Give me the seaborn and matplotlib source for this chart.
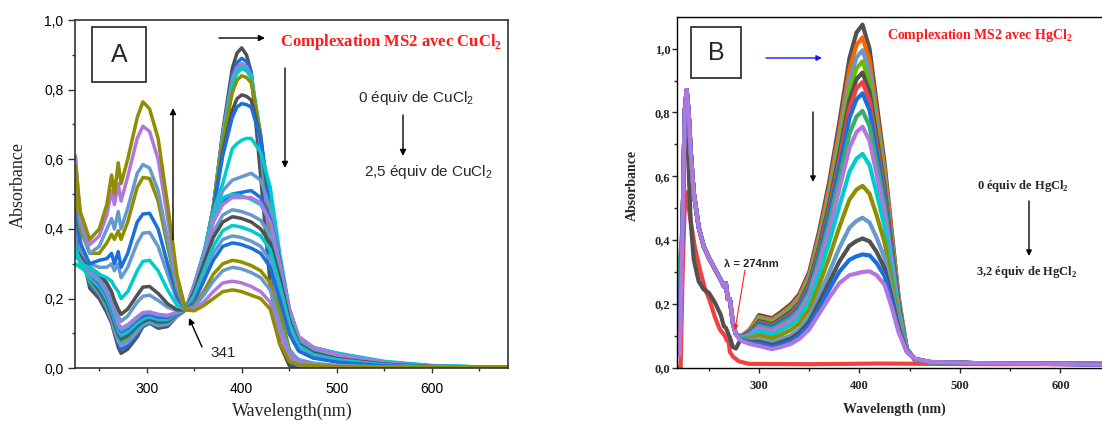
import pandas as pd
import seaborn as sns
import matplotlib.pyplot as plt
from matplotlib.patches import Rectangle, FancyArrowPatch

sns.set_style("ticks")
plt.rcParams['font.family'] = ['Liberation Sans', 'DejaVu Sans']

# ---------------- panel A : CuCl2 titration ----------------
wl_a = [225, 230, 240, 250, 258, 263, 266, 270, 273, 280, 290, 296, 303, 312, 322, 332, 341,
        350, 360, 370, 380, 390, 395, 400, 405, 410, 420, 430, 440, 450, 460, 475, 500, 550, 600, 680]

cu_01 = [0.50, 0.36, 0.23, 0.20, 0.16, 0.13, 0.10, 0.06, 0.043, 0.055, 0.09, 0.12, 0.13, 0.115, 0.12, 0.15, 0.168,
         0.22, 0.32, 0.46, 0.68, 0.86, 0.905, 0.92, 0.90, 0.85, 0.55, 0.24, 0.07, 0.008, 0.0, 0.0, 0.0, 0.0, 0.0, 0.0]
cu_02 = [0.48, 0.35, 0.24, 0.21, 0.17, 0.135, 0.105, 0.07, 0.055, 0.065, 0.10, 0.12, 0.13, 0.12, 0.125, 0.15, 0.168,
         0.22, 0.32, 0.46, 0.67, 0.84, 0.877, 0.89, 0.88, 0.85, 0.62, 0.32, 0.11, 0.02, 0.005, 0.002, 0.001, 0.0, 0.0, 0.0]
cu_03 = [0.55, 0.37, 0.25, 0.215, 0.175, 0.14, 0.11, 0.08, 0.065, 0.075, 0.105, 0.125, 0.133, 0.123, 0.127, 0.15, 0.168,
         0.22, 0.32, 0.46, 0.67, 0.83, 0.864, 0.875, 0.866, 0.84, 0.64, 0.35, 0.13, 0.03, 0.008, 0.004, 0.002, 0.001, 0.0, 0.0]
cu_04 = [0.45, 0.35, 0.25, 0.215, 0.18, 0.145, 0.115, 0.085, 0.07, 0.08, 0.11, 0.128, 0.135, 0.125, 0.13, 0.152, 0.168,
         0.22, 0.32, 0.46, 0.66, 0.82, 0.857, 0.87, 0.862, 0.84, 0.66, 0.37, 0.15, 0.04, 0.012, 0.006, 0.003, 0.001, 0.0, 0.0]
cu_05 = [0.32, 0.31, 0.25, 0.22, 0.18, 0.15, 0.12, 0.09, 0.075, 0.085, 0.115, 0.13, 0.137, 0.128, 0.132, 0.153, 0.168,
         0.22, 0.32, 0.46, 0.66, 0.81, 0.847, 0.86, 0.854, 0.835, 0.67, 0.39, 0.16, 0.05, 0.018, 0.009, 0.005, 0.002, 0.001, 0.0]
cu_06 = [0.40, 0.33, 0.255, 0.22, 0.185, 0.15, 0.125, 0.095, 0.08, 0.09, 0.12, 0.133, 0.14, 0.13, 0.133, 0.154, 0.168,
         0.22, 0.32, 0.46, 0.65, 0.79, 0.827, 0.84, 0.835, 0.82, 0.67, 0.40, 0.17, 0.055, 0.02, 0.01, 0.006, 0.003, 0.001, 0.0]
cu_07 = [0.45, 0.34, 0.26, 0.225, 0.19, 0.155, 0.13, 0.10, 0.085, 0.095, 0.122, 0.135, 0.142, 0.133, 0.135, 0.155, 0.168,
         0.22, 0.32, 0.45, 0.62, 0.74, 0.774, 0.785, 0.781, 0.77, 0.66, 0.45, 0.23, 0.10, 0.05, 0.03, 0.02, 0.01, 0.004, 0.002]
cu_08 = [0.40, 0.33, 0.26, 0.23, 0.195, 0.16, 0.135, 0.105, 0.09, 0.10, 0.125, 0.138, 0.145, 0.137, 0.138, 0.156, 0.168,
         0.22, 0.32, 0.45, 0.61, 0.72, 0.75, 0.76, 0.757, 0.75, 0.66, 0.47, 0.26, 0.12, 0.065, 0.04, 0.03, 0.013, 0.005, 0.002]
cu_09 = [0.35, 0.30, 0.26, 0.235, 0.20, 0.165, 0.14, 0.11, 0.095, 0.105, 0.13, 0.142, 0.148, 0.14, 0.14, 0.157, 0.168,
         0.23, 0.33, 0.45, 0.53, 0.63, 0.645, 0.655, 0.66, 0.66, 0.62, 0.52, 0.33, 0.17, 0.09, 0.06, 0.042, 0.018, 0.007, 0.002]
cu_10 = [0.41, 0.32, 0.265, 0.24, 0.205, 0.17, 0.145, 0.115, 0.10, 0.11, 0.135, 0.145, 0.15, 0.143, 0.143, 0.158, 0.168,
         0.23, 0.33, 0.44, 0.51, 0.54, 0.545, 0.55, 0.555, 0.56, 0.54, 0.46, 0.32, 0.17, 0.09, 0.06, 0.042, 0.018, 0.007, 0.002]
cu_11 = [0.40, 0.32, 0.27, 0.245, 0.21, 0.175, 0.15, 0.12, 0.105, 0.115, 0.14, 0.15, 0.155, 0.147, 0.146, 0.159, 0.168,
         0.24, 0.33, 0.42, 0.48, 0.50, 0.503, 0.505, 0.508, 0.51, 0.49, 0.43, 0.31, 0.17, 0.09, 0.06, 0.042, 0.018, 0.007, 0.002]
cu_12 = [0.30, 0.29, 0.27, 0.25, 0.215, 0.18, 0.155, 0.125, 0.11, 0.12, 0.145, 0.158, 0.16, 0.153, 0.15, 0.16, 0.168,
         0.24, 0.33, 0.43, 0.49, 0.50, 0.498, 0.495, 0.49, 0.485, 0.47, 0.42, 0.30, 0.17, 0.09, 0.06, 0.044, 0.02, 0.008, 0.002]
cu_13 = [0.38, 0.31, 0.275, 0.255, 0.22, 0.19, 0.165, 0.13, 0.115, 0.125, 0.148, 0.16, 0.162, 0.155, 0.152, 0.161, 0.168,
         0.24, 0.32, 0.42, 0.47, 0.49, 0.49, 0.49, 0.49, 0.49, 0.475, 0.42, 0.30, 0.17, 0.09, 0.06, 0.04, 0.017, 0.006, 0.002]
cu_14 = [0.40, 0.31, 0.28, 0.26, 0.23, 0.20, 0.18, 0.15, 0.135, 0.15, 0.19, 0.207, 0.21, 0.195, 0.175, 0.165, 0.168,
         0.23, 0.31, 0.39, 0.44, 0.455, 0.453, 0.45, 0.445, 0.44, 0.425, 0.38, 0.28, 0.15, 0.08, 0.05, 0.03, 0.013, 0.005, 0.002]
cu_15 = [0.45, 0.33, 0.29, 0.27, 0.245, 0.22, 0.195, 0.17, 0.155, 0.17, 0.21, 0.233, 0.235, 0.215, 0.185, 0.168, 0.168,
         0.22, 0.30, 0.375, 0.42, 0.435, 0.433, 0.43, 0.425, 0.42, 0.40, 0.36, 0.26, 0.14, 0.07, 0.045, 0.028, 0.012, 0.005, 0.002]
cu_16 = [0.35, 0.30, 0.29, 0.27, 0.26, 0.25, 0.235, 0.22, 0.20, 0.22, 0.28, 0.307, 0.31, 0.28, 0.225, 0.18, 0.168,
         0.21, 0.28, 0.35, 0.395, 0.41, 0.408, 0.405, 0.40, 0.395, 0.38, 0.34, 0.24, 0.13, 0.065, 0.04, 0.025, 0.01, 0.004, 0.002]
cu_17 = [0.45, 0.34, 0.30, 0.29, 0.29, 0.30, 0.28, 0.30, 0.26, 0.29, 0.36, 0.388, 0.39, 0.35, 0.27, 0.195, 0.168,
         0.20, 0.26, 0.33, 0.37, 0.38, 0.378, 0.375, 0.37, 0.365, 0.35, 0.31, 0.21, 0.11, 0.055, 0.035, 0.02, 0.008, 0.003, 0.002]
cu_18 = [0.45, 0.36, 0.30, 0.31, 0.315, 0.33, 0.30, 0.335, 0.29, 0.33, 0.42, 0.443, 0.445, 0.40, 0.30, 0.205, 0.168,
         0.19, 0.25, 0.31, 0.35, 0.36, 0.358, 0.355, 0.35, 0.345, 0.33, 0.29, 0.20, 0.10, 0.05, 0.03, 0.018, 0.007, 0.003, 0.002]
cu_19 = [0.50, 0.40, 0.33, 0.33, 0.36, 0.385, 0.37, 0.395, 0.37, 0.42, 0.52, 0.548, 0.545, 0.48, 0.35, 0.225, 0.168,
         0.18, 0.22, 0.27, 0.30, 0.31, 0.308, 0.305, 0.30, 0.295, 0.28, 0.245, 0.14, 0.05, 0.02, 0.012, 0.007, 0.004, 0.003, 0.002]
cu_20 = [0.61, 0.42, 0.33, 0.35, 0.40, 0.43, 0.40, 0.45, 0.40, 0.46, 0.56, 0.585, 0.575, 0.51, 0.37, 0.235, 0.168,
         0.175, 0.21, 0.25, 0.28, 0.29, 0.288, 0.285, 0.28, 0.275, 0.26, 0.225, 0.13, 0.05, 0.025, 0.015, 0.008, 0.004, 0.003, 0.002]
cu_21 = [0.60, 0.44, 0.355, 0.38, 0.44, 0.51, 0.47, 0.53, 0.48, 0.55, 0.66, 0.695, 0.68, 0.60, 0.43, 0.255, 0.168,
         0.17, 0.19, 0.22, 0.245, 0.25, 0.248, 0.245, 0.24, 0.235, 0.22, 0.19, 0.10, 0.035, 0.015, 0.01, 0.006, 0.003, 0.002, 0.002]
cu_22 = [0.58, 0.45, 0.37, 0.40, 0.47, 0.555, 0.50, 0.59, 0.53, 0.60, 0.72, 0.765, 0.745, 0.66, 0.47, 0.265, 0.168,
         0.165, 0.18, 0.20, 0.22, 0.225, 0.223, 0.22, 0.215, 0.21, 0.20, 0.17, 0.07, 0.02, 0.01, 0.008, 0.005, 0.003, 0.002, 0.002]

cu_spectra = [cu_01, cu_02, cu_03, cu_04, cu_05, cu_06, cu_07, cu_08, cu_09, cu_10, cu_11,
              cu_12, cu_13, cu_14, cu_15, cu_16, cu_17, cu_18, cu_19, cu_20, cu_21, cu_22]

GRAY, BLUE, PURPLE, STEEL, CYAN, OLIVE = "#515151", "#1A6FDF", "#B177DE", "#6699CC", "#00CBCC", "#8E8E00"
RED, ORANGE, LIME, GREEN = "#F14040", "#FB6501", "#6FB802", "#37AD6B"

cu_colors = [GRAY, BLUE, PURPLE, STEEL, CYAN, OLIVE, GRAY, BLUE, CYAN, STEEL, BLUE,
             CYAN, PURPLE, STEEL, GRAY, CYAN, STEEL, BLUE, OLIVE, STEEL, PURPLE, OLIVE]

# ---------------- panel B : HgCl2 titration ----------------
wl_b_start = 221
wl_b_uv = [224, 226, 228, 230, 232, 235, 240, 245, 250, 256, 262, 265, 267, 269, 271, 274, 277]
wl_b_vis = [282, 290, 300, 313, 322, 332, 340, 350, 360, 370, 380, 390, 397, 403, 410, 417,
            425, 432, 439, 447, 455, 470, 520, 644]

hg_uv_first = [0.45, 0.76, 0.80, 0.62, 0.46, 0.34, 0.27, 0.245, 0.235, 0.205, 0.165, 0.13, 0.125, 0.11, 0.095, 0.065, 0.06]
hg_uv_rest = [0.45, 0.80, 0.87, 0.80, 0.68, 0.55, 0.44, 0.38, 0.345, 0.31, 0.275, 0.255, 0.265, 0.215, 0.215, 0.14, 0.105]
hg_start = [0.15, 0.21, 0.15, 0.30, 0.20, 0.18, 0.17, 0.31, 0.04, 0.21, 0.16, 0.12, 0.10, 0.14, 0.04]

hg_01 = [0.09, 0.115, 0.165, 0.155, 0.175, 0.20, 0.23, 0.30, 0.43, 0.585, 0.77, 0.97, 1.05, 1.075, 1.0, 0.83, 0.64, 0.43, 0.22, 0.06, 0.025, 0.017, 0.014, 0.012]
hg_02 = [0.099, 0.118, 0.160, 0.150, 0.169, 0.194, 0.223, 0.291, 0.416, 0.566, 0.744, 0.935, 1.011, 1.035, 0.964, 0.802, 0.620, 0.418, 0.214, 0.059, 0.025, 0.017, 0.014, 0.012]
hg_03 = [0.098, 0.115, 0.155, 0.145, 0.164, 0.187, 0.216, 0.281, 0.403, 0.547, 0.718, 0.900, 0.972, 0.995, 0.928, 0.774, 0.601, 0.405, 0.209, 0.059, 0.025, 0.017, 0.014, 0.012]
hg_04 = [0.098, 0.113, 0.151, 0.141, 0.159, 0.182, 0.209, 0.273, 0.392, 0.531, 0.695, 0.869, 0.938, 0.960, 0.897, 0.750, 0.584, 0.394, 0.204, 0.058, 0.026, 0.017, 0.014, 0.012]
hg_05 = [0.097, 0.111, 0.146, 0.136, 0.154, 0.176, 0.203, 0.265, 0.380, 0.514, 0.672, 0.838, 0.904, 0.925, 0.865, 0.725, 0.566, 0.383, 0.199, 0.058, 0.026, 0.017, 0.014, 0.012]
hg_06 = [0.097, 0.110, 0.142, 0.132, 0.149, 0.171, 0.198, 0.258, 0.370, 0.500, 0.653, 0.812, 0.875, 0.895, 0.838, 0.705, 0.552, 0.374, 0.194, 0.058, 0.026, 0.017, 0.014, 0.012]
hg_07 = [0.096, 0.108, 0.138, 0.128, 0.145, 0.165, 0.191, 0.250, 0.358, 0.484, 0.630, 0.782, 0.841, 0.860, 0.807, 0.680, 0.535, 0.364, 0.190, 0.057, 0.026, 0.017, 0.014, 0.011]
hg_08 = [0.095, 0.104, 0.131, 0.121, 0.137, 0.157, 0.181, 0.237, 0.340, 0.458, 0.594, 0.733, 0.787, 0.805, 0.757, 0.642, 0.508, 0.346, 0.182, 0.057, 0.026, 0.017, 0.014, 0.011]
hg_09 = [0.094, 0.101, 0.125, 0.115, 0.130, 0.148, 0.172, 0.226, 0.323, 0.434, 0.561, 0.689, 0.738, 0.755, 0.712, 0.607, 0.483, 0.331, 0.175, 0.056, 0.027, 0.017, 0.014, 0.011]
hg_10 = [0.092, 0.096, 0.114, 0.104, 0.117, 0.135, 0.157, 0.206, 0.294, 0.394, 0.506, 0.614, 0.655, 0.670, 0.635, 0.548, 0.441, 0.304, 0.162, 0.055, 0.027, 0.017, 0.014, 0.011]
hg_11 = [0.090, 0.091, 0.102, 0.092, 0.103, 0.119, 0.139, 0.183, 0.260, 0.347, 0.441, 0.527, 0.558, 0.570, 0.545, 0.478, 0.392, 0.274, 0.148, 0.053, 0.027, 0.017, 0.014, 0.011]
hg_12 = [0.088, 0.085, 0.089, 0.079, 0.089, 0.102, 0.121, 0.159, 0.227, 0.300, 0.376, 0.439, 0.460, 0.470, 0.455, 0.408, 0.343, 0.243, 0.134, 0.052, 0.028, 0.018, 0.014, 0.011]
hg_13 = [0.087, 0.081, 0.081, 0.071, 0.080, 0.092, 0.109, 0.144, 0.205, 0.269, 0.333, 0.382, 0.397, 0.405, 0.396, 0.363, 0.311, 0.222, 0.125, 0.051, 0.028, 0.018, 0.014, 0.010]
hg_14 = [0.086, 0.078, 0.075, 0.065, 0.073, 0.084, 0.100, 0.133, 0.188, 0.246, 0.301, 0.338, 0.349, 0.355, 0.352, 0.328, 0.287, 0.207, 0.118, 0.050, 0.028, 0.018, 0.014, 0.010]
hg_15 = [0.085, 0.075, 0.068, 0.058, 0.065, 0.075, 0.090, 0.120, 0.170, 0.220, 0.265, 0.290, 0.295, 0.300, 0.302, 0.290, 0.260, 0.190, 0.110, 0.050, 0.028, 0.018, 0.014, 0.010]

hg_vis = [hg_01, hg_02, hg_03, hg_04, hg_05, hg_06, hg_07, hg_08, hg_09, hg_10, hg_11, hg_12, hg_13, hg_14, hg_15]
hg_colors = [GRAY, ORANGE, STEEL, LIME, GRAY, RED, BLUE, GREEN, PURPLE, CYAN, OLIVE, STEEL, GRAY, BLUE, PURPLE]

# HgCl2 reference trace (red, flat in the visible)
wl_red = [219.5, 222, 224, 226, 228, 231, 236, 241, 246, 251, 256, 261, 266, 268, 269.5, 271, 274,
          280, 290, 350, 420, 470, 550, 644]
red_abs = [0.0, 0.0, 0.30, 0.50, 0.55, 0.48, 0.38, 0.31, 0.25, 0.21, 0.16, 0.12, 0.10, 0.085, 0.09, 0.05, 0.035,
           0.02, 0.012, 0.011, 0.013, 0.012, 0.011, 0.011]

# axis ticks
a_yticks = [0.0, 0.2, 0.4, 0.6, 0.8, 1.0]
a_ylabels = ["0,0", "0,2", "0,4", "0,6", "0,8", "1,0"]
b_yticks = [0.0, 0.2, 0.4, 0.6, 0.8, 1.0]
b_ylabels = ["0,0", "0,2", "0,4", "0,6", "0,8", "1,0"]
x_ticks = [300, 400, 500, 600]


def long_table(wl_lists, spectra):
    rows = []
    for i, (wl, s) in enumerate(zip(wl_lists, spectra)):
        for w, v in zip(wl, s):
            rows.append((f"s{i:02d}", w, v))
    return pd.DataFrame(rows, columns=["scan", "wavelength", "absorbance"])


W, H = 1102, 421
fig = plt.figure(figsize=(W / 100, H / 100), dpi=100)


def fp(x, y):
    return (x / W, 1 - y / H)


def arrow(p0, p1, color="black", lw=1.0, ms=9):
    fig.add_artist(FancyArrowPatch(fp(*p0), fp(*p1), transform=fig.transFigure,
                                   arrowstyle="-|>", mutation_scale=ms, lw=lw, color=color,
                                   shrinkA=0, shrinkB=0))


# ---------- panel A ----------
ax_a = fig.add_axes([75 / W, 1 - 368.3 / H, (507.7 - 75) / W, (368.3 - 20) / H])
df_a = long_table([wl_a] * len(cu_spectra), cu_spectra)
sns.lineplot(data=df_a, x="wavelength", y="absorbance", hue="scan", palette=cu_colors,
             estimator=None, sort=False, lw=2.5, legend=False, ax=ax_a)
ax_a.set_xlim(224.5, 680)
ax_a.set_ylim(0, 1.0)
ax_a.set_xticks(x_ticks)
ax_a.set_xticklabels([str(t) for t in x_ticks], fontfamily="Liberation Sans", fontsize=10)
ax_a.set_xticks([250, 350, 450, 550, 650], minor=True)
ax_a.set_yticks(a_yticks)
ax_a.set_yticklabels(a_ylabels, fontfamily="Liberation Sans", fontsize=10)
ax_a.set_yticks([0.1, 0.3, 0.5, 0.7, 0.9], minor=True)
ax_a.tick_params(axis="y", which="major", length=4.8, width=1, pad=3.5, colors="#333333", labelcolor="black")
ax_a.tick_params(axis="x", which="major", length=3.6, width=1, pad=6, colors="#333333", labelcolor="black")
ax_a.tick_params(which="minor", length=2.2, width=1, colors="#333333")
for sp in ax_a.spines.values():
    sp.set_linewidth(1.2)
    sp.set_color("#333333")
ax_a.set_xlabel("")
ax_a.set_ylabel("")
fig.text(*fp(18, 185), "Absorbance", rotation=90, ha="center", va="center",
         fontfamily="Liberation Serif", fontsize=13)
fig.text(*fp(292, 416), "Wavelength(nm)", ha="center", va="baseline",
         fontfamily="Liberation Serif", fontsize=13)

fig.add_artist(Rectangle(fp(92, 82), 54 / W, 55 / H, transform=fig.transFigure,
                         fill=False, lw=1.2, ec="#222222"))
fig.text(*fp(119, 55), "A", ha="center", va="center", fontsize=18, fontfamily="Liberation Sans")
arrow((219, 38), (265, 38))
fig.text(*fp(280, 42), r"Complexation MS2 avec CuCl$_\mathregular{2}$", ha="left", va="center",
         color="#FF1A1A", fontweight="bold", fontfamily="Liberation Serif", fontsize=12)
arrow((285, 68), (285, 168))
arrow((173, 240), (173, 108))
fig.text(*fp(358, 98), r"0 équiv de CuCl$_\mathregular{2}$", ha="left", va="center", fontsize=11)
arrow((403, 115), (403, 156))
fig.text(*fp(364, 172), r"2,5 équiv de CuCl$_\mathregular{2}$", ha="left", va="center", fontsize=11)
fig.text(*fp(210, 353), "341", ha="left", va="center", fontsize=11)
arrow((202, 347), (189, 318))

# ---------- panel B ----------
ax_b = fig.add_axes([677.3 / W, 1 - 367.7 / H, (1105 - 677.3) / W, (367.7 - 16.7) / H])
wl_b_full = [wl_b_start] + wl_b_uv + wl_b_vis
hg_full = []
for i, vis in enumerate(hg_vis):
    uv = hg_uv_first if i == 0 else hg_uv_rest
    hg_full.append([hg_start[i]] + uv + vis)
df_b = long_table([wl_red] + [wl_b_full] * len(hg_full), [red_abs] + hg_full)
sns.lineplot(data=df_b, x="wavelength", y="absorbance", hue="scan", palette=[RED] + hg_colors,
             estimator=None, sort=False, lw=3.0, legend=False, ax=ax_b)
ax_b.set_xlim(218.7, 644.3)
ax_b.set_ylim(0, 1.1)
ax_b.set_xticks(x_ticks)
ax_b.set_xticklabels([str(t) for t in x_ticks], fontfamily="Liberation Serif", fontweight="bold", fontsize=9)
ax_b.set_xticks([250, 350, 450, 550], minor=True)
ax_b.set_yticks(b_yticks)
ax_b.set_yticklabels(b_ylabels, fontfamily="Liberation Serif", fontweight="bold", fontsize=9)
ax_b.set_yticks([0.1, 0.3, 0.5, 0.7, 0.9], minor=True)
ax_b.tick_params(axis="y", which="major", length=3.6, width=1, pad=1.5)
ax_b.tick_params(axis="x", which="major", length=3.6, width=1, pad=5)
ax_b.tick_params(which="minor", length=2.2, width=1)
ax_b.spines["right"].set_visible(False)
for sp in ax_b.spines.values():
    sp.set_linewidth(1.0)
    sp.set_color("black")
ax_b.set_xlabel("")
ax_b.set_ylabel("")
fig.text(*fp(632, 185), "Absorbance", rotation=90, ha="center", va="center",
         fontfamily="Liberation Serif", fontweight="bold", fontsize=10)
fig.text(*fp(894, 409), "Wavelength (nm)", ha="center", va="center",
         fontfamily="Liberation Serif", fontweight="bold", fontsize=10)

fig.add_artist(Rectangle(fp(691, 78), 50 / W, 51 / H, transform=fig.transFigure,
                         fill=False, lw=1.2, ec="#222222"))
fig.text(*fp(716, 53), "B", ha="center", va="center", fontsize=18, fontfamily="Liberation Sans")
arrow((766, 58), (822, 58), color="#1414FF", ms=8)
fig.text(*fp(887, 36), r"Complexation MS2 avec HgCl$_\mathregular{2}$", ha="left", va="center",
         color="#FF1A1A", fontweight="bold", fontfamily="Liberation Serif", fontsize=10)
arrow((813, 112), (813, 182), ms=8)
fig.text(*fp(977, 186), r"0 équiv de HgCl$_\mathregular{2}$", ha="left", va="center",
         fontweight="bold", fontfamily="Liberation Serif", fontsize=9)
arrow((1029, 201), (1029, 256), ms=8)
fig.text(*fp(976, 272), r"3,2 équiv de HgCl$_\mathregular{2}$", ha="left", va="center",
         fontweight="bold", fontfamily="Liberation Serif", fontsize=9)
fig.text(*fp(724, 264), "λ = 274nm", ha="left", va="center", fontweight="bold", fontsize=8)
arrow((745, 270), (735, 330), color="#FF2020", lw=0.8, ms=7)

fig.savefig("out.png", dpi=100)
